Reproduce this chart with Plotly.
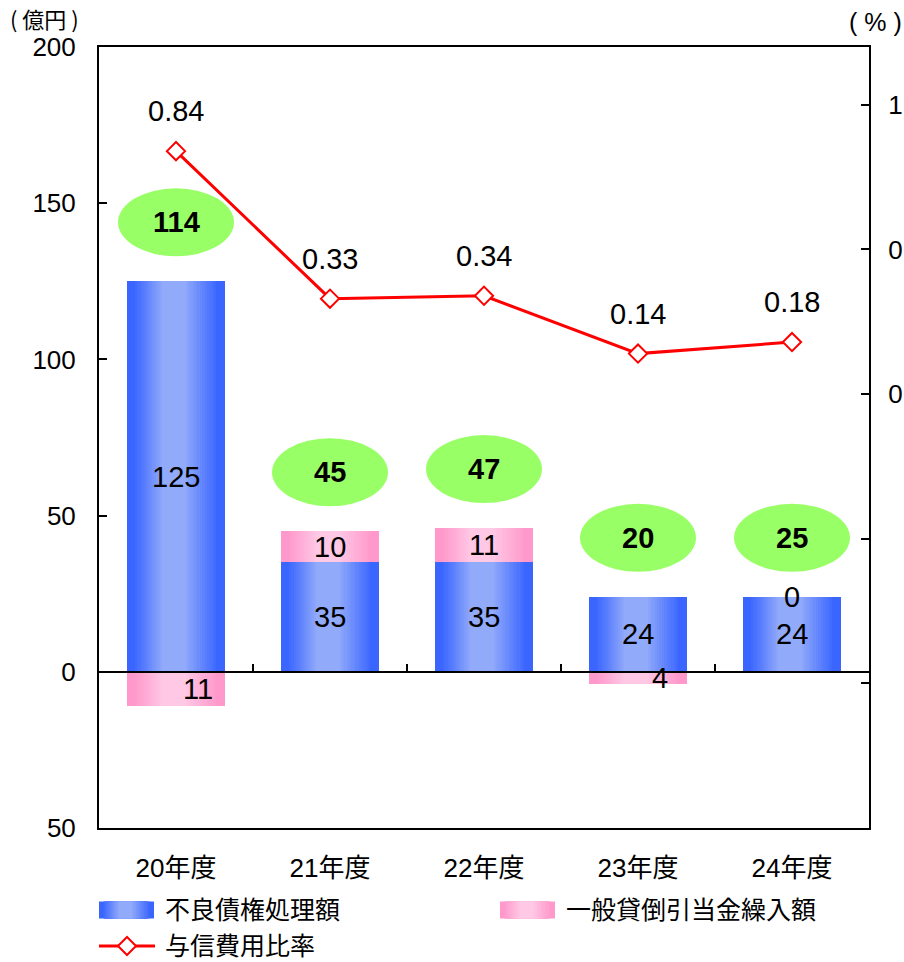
import plotly.graph_objects as go

# ---- data -------------------------------------------------------------
categories = ["20年度", "21年度", "22年度", "23年度", "24年度"]
disposal = [125, 35, 35, 24, 24]            # 不良債権処理額 (億円)
provision = [-11, 10, 11, -4, 0]            # 一般貸倒引当金繰入額 (億円)
totals = [114, 45, 47, 20, 25]              # 与信費用 合計 (億円)
cost_ratio = [0.84, 0.33, 0.34, 0.14, 0.18] # 与信費用比率 (%)

left_tickvals = [200, 150, 100, 50, 0, -50]
left_ticktext = ["200", "150", "100", "50", "0", "50"]
right_tickvals = [1.0, 0.5, 0.0, -0.5, -1.0]
right_ticktext = ["1", "0", "0", "", ""]

series_names = ["不良債権処理額", "一般貸倒引当金繰入額", "与信費用比率"]

# ---- styling ----------------------------------------------------------
W, H = 904, 962
L, R, T, B = 99, 869, 47, 828          # plot area in pixels
FONT = "Liberation Sans, Arial, Noto Sans CJK JP, sans-serif"
JP_FONT = "Noto Sans CJK JP, sans-serif"
BLUE_EDGE, BLUE_MID = (58, 102, 255), (146, 170, 250)
PINK_EDGE, PINK_MID = (255, 153, 204), (255, 200, 228)
GREEN = "#99ff66"
RED = "#ff0000"
BAR_W = 0.63
N_LAYERS = 14
LABEL_SIZE = 29
LEGEND_SIZE = 25


def mix(a, b, s):
    return "rgb(%d,%d,%d)" % tuple(round(a[i] + (b[i] - a[i]) * s) for i in range(3))


def gradient_layers(edge, mid):
    """Nested strips (left, right, colour) as fractions of a bar width,
    giving a horizontal 'cylinder' shading."""
    out = [(0.0, 1.0, mix(edge, mid, 0))]
    for k in range(1, N_LAYERS + 1):
        s = k / N_LAYERS
        out.append((0.06 + 0.30 * s, 0.94 - 0.34 * s, mix(edge, mid, s)))
    return out


def px_x(x):
    return (x - L) / (R - L)


def px_y(y):
    return (B - y) / (B - T)


fig = go.Figure()

# stacked bars drawn as overlaid gradient strips
pink_base = [d if p >= 0 else 0 for d, p in zip(disposal, provision)]
for values, bases, edge, mid in [
    (disposal, [0] * len(disposal), BLUE_EDGE, BLUE_MID),
    (provision, pink_base, PINK_EDGE, PINK_MID),
]:
    for lft, rgt, col in gradient_layers(edge, mid):
        fig.add_trace(go.Bar(
            x=categories, y=values, base=bases,
            width=(rgt - lft) * BAR_W, offset=-BAR_W / 2 + lft * BAR_W,
            marker=dict(color=col, line_width=0),
            showlegend=False, hoverinfo="skip",
        ))

# credit cost ratio line (right axis)
fig.add_trace(go.Scatter(
    x=categories, y=cost_ratio, yaxis="y2", mode="lines+markers",
    line=dict(color=RED, width=3),
    marker=dict(symbol="diamond", size=14, color="white",
                line=dict(color=RED, width=2)),
    showlegend=False, name=series_names[2],
))

# carrier trace for the zero-line category axis
fig.add_trace(go.Scatter(x=categories, y=[None] * len(categories),
                         xaxis="x2", yaxis="y", showlegend=False,
                         hoverinfo="skip"))

shapes = []
annotations = []

# green ellipses with totals above each stack
for cat, d, p, tot in zip(categories, disposal, provision, totals):
    top = d + max(p, 0)
    shapes.append(dict(
        type="circle", xref="x", yref="y", xsizemode="pixel", ysizemode="pixel",
        xanchor=cat, yanchor=top, x0=-58, x1=58, y0=59 - 34, y1=59 + 34,
        fillcolor=GREEN, line_width=0, layer="below",
    ))
    annotations.append(dict(
        x=cat, y=top, xref="x", yref="y", yshift=59, showarrow=False,
        text="<b>%d</b>" % tot, font=dict(size=LABEL_SIZE, color="black", family=FONT),
    ))

# bar value labels
for cat, d, p, b in zip(categories, disposal, provision, pink_base):
    annotations.append(dict(
        x=cat, y=d / 2, xref="x", yref="y", showarrow=False, text=str(d),
        font=dict(size=LABEL_SIZE, color="black", family=FONT),
    ))
    annotations.append(dict(
        x=cat, y=b + p / 2, xref="x", yref="y", showarrow=False,
        xshift=22 if p < 0 else 0, text=str(abs(p)),
        font=dict(size=LABEL_SIZE, color="black", family=FONT),
    ))

# ratio labels
for cat, r in zip(categories, cost_ratio):
    annotations.append(dict(
        x=cat, y=r, xref="x", yref="y2", yshift=40, showarrow=False,
        text="%.2f" % r, font=dict(size=LABEL_SIZE, color="black", family=FONT),
    ))

# axis unit captions
annotations.append(dict(x=px_x(8), y=px_y(18), xref="paper", yref="paper",
                        xanchor="left", yanchor="middle", showarrow=False,
                        text="( 億円 )", font=dict(size=22, color="black", family=JP_FONT)))
annotations.append(dict(x=px_x(847), y=px_y(22), xref="paper", yref="paper",
                        xanchor="left", yanchor="middle", showarrow=False,
                        text="( % )", font=dict(size=25, color="black", family=FONT)))

# legend
legend_rows = [
    (99, 910, series_names[0], BLUE_EDGE, BLUE_MID),
    (500, 910, series_names[1], PINK_EDGE, PINK_MID),
]
for x0, yc, label, edge, mid in legend_rows:
    sw = 55
    for lft, rgt, col in gradient_layers(edge, mid):
        shapes.append(dict(
            type="rect", xref="paper", yref="paper",
            x0=px_x(x0 + lft * sw), x1=px_x(x0 + rgt * sw),
            y0=px_y(yc + 8.5), y1=px_y(yc - 8.5),
            fillcolor=col, line_width=0, layer="above",
        ))
    annotations.append(dict(
        x=px_x(x0 + 64), y=px_y(yc - 2), xref="paper", yref="paper",
        xanchor="left", yanchor="middle", showarrow=False, text=label,
        font=dict(size=LEGEND_SIZE, color="black", family=JP_FONT),
    ))

ly = 946
shapes.append(dict(type="line", xref="paper", yref="paper",
                    x0=px_x(99), x1=px_x(155), y0=px_y(ly), y1=px_y(ly),
                    line=dict(color=RED, width=3), layer="above"))
cx, r = 127, 9
shapes.append(dict(
    type="path", xref="paper", yref="paper",
    path="M %f,%f L %f,%f L %f,%f L %f,%f Z" % (
        px_x(cx - r), px_y(ly), px_x(cx), px_y(ly - r),
        px_x(cx + r), px_y(ly), px_x(cx), px_y(ly + r)),
    fillcolor="white", line=dict(color=RED, width=2), layer="above",
))
annotations.append(dict(
    x=px_x(163), y=px_y(ly - 2), xref="paper", yref="paper",
    xanchor="left", yanchor="middle", showarrow=False, text=series_names[2],
    font=dict(size=LEGEND_SIZE, color="black", family=JP_FONT),
))

zero_pos = (0 - (-50)) / (200 - (-50))

fig.update_layout(
    width=W, height=H, autosize=False,
    margin=dict(l=L, r=W - R, t=T, b=H - B, pad=0),
    paper_bgcolor="white", plot_bgcolor="white",
    barmode="overlay", bargap=0,
    font=dict(family=FONT, size=26, color="black"),
    showlegend=False,
    xaxis=dict(
        type="category", categoryorder="array", categoryarray=categories,
        range=[-0.5, len(categories) - 0.5], automargin=False,
        showline=True, linecolor="black", linewidth=2, mirror=True,
        ticks="", showgrid=False, zeroline=False,
        tickfont=dict(size=26, family=FONT), ticklabelstandoff=16,
    ),
    xaxis2=dict(
        type="category", categoryorder="array", categoryarray=categories,
        overlaying="x", anchor="free", position=zero_pos, matches="x",
        range=[-0.5, len(categories) - 0.5], automargin=False,
        showline=True, linecolor="black", linewidth=2,
        ticks="inside", tickson="boundaries", ticklen=7, tickwidth=2,
        tickcolor="black", showticklabels=False, showgrid=False, zeroline=False,
    ),
    yaxis=dict(
        range=[-50, 200], tickvals=left_tickvals, ticktext=left_ticktext,
        showline=True, linecolor="black", linewidth=2, automargin=False,
        ticks="inside", ticklen=8, tickwidth=2, tickcolor="black",
        showgrid=False, zeroline=False,
        tickfont=dict(size=26, family=FONT), ticklabelstandoff=16,
    ),
    yaxis2=dict(
        overlaying="y", side="right", anchor="x", automargin=False,
        range=[-1.5, 1.2], tickvals=right_tickvals, ticktext=right_ticktext,
        showline=True, linecolor="black", linewidth=2,
        ticks="inside", ticklen=8, tickwidth=2, tickcolor="black",
        showgrid=False, zeroline=False,
        tickfont=dict(size=26, family=FONT), ticklabelstandoff=12,
    ),
    shapes=shapes,
    annotations=annotations,
)

fig.write_html("out.html")
